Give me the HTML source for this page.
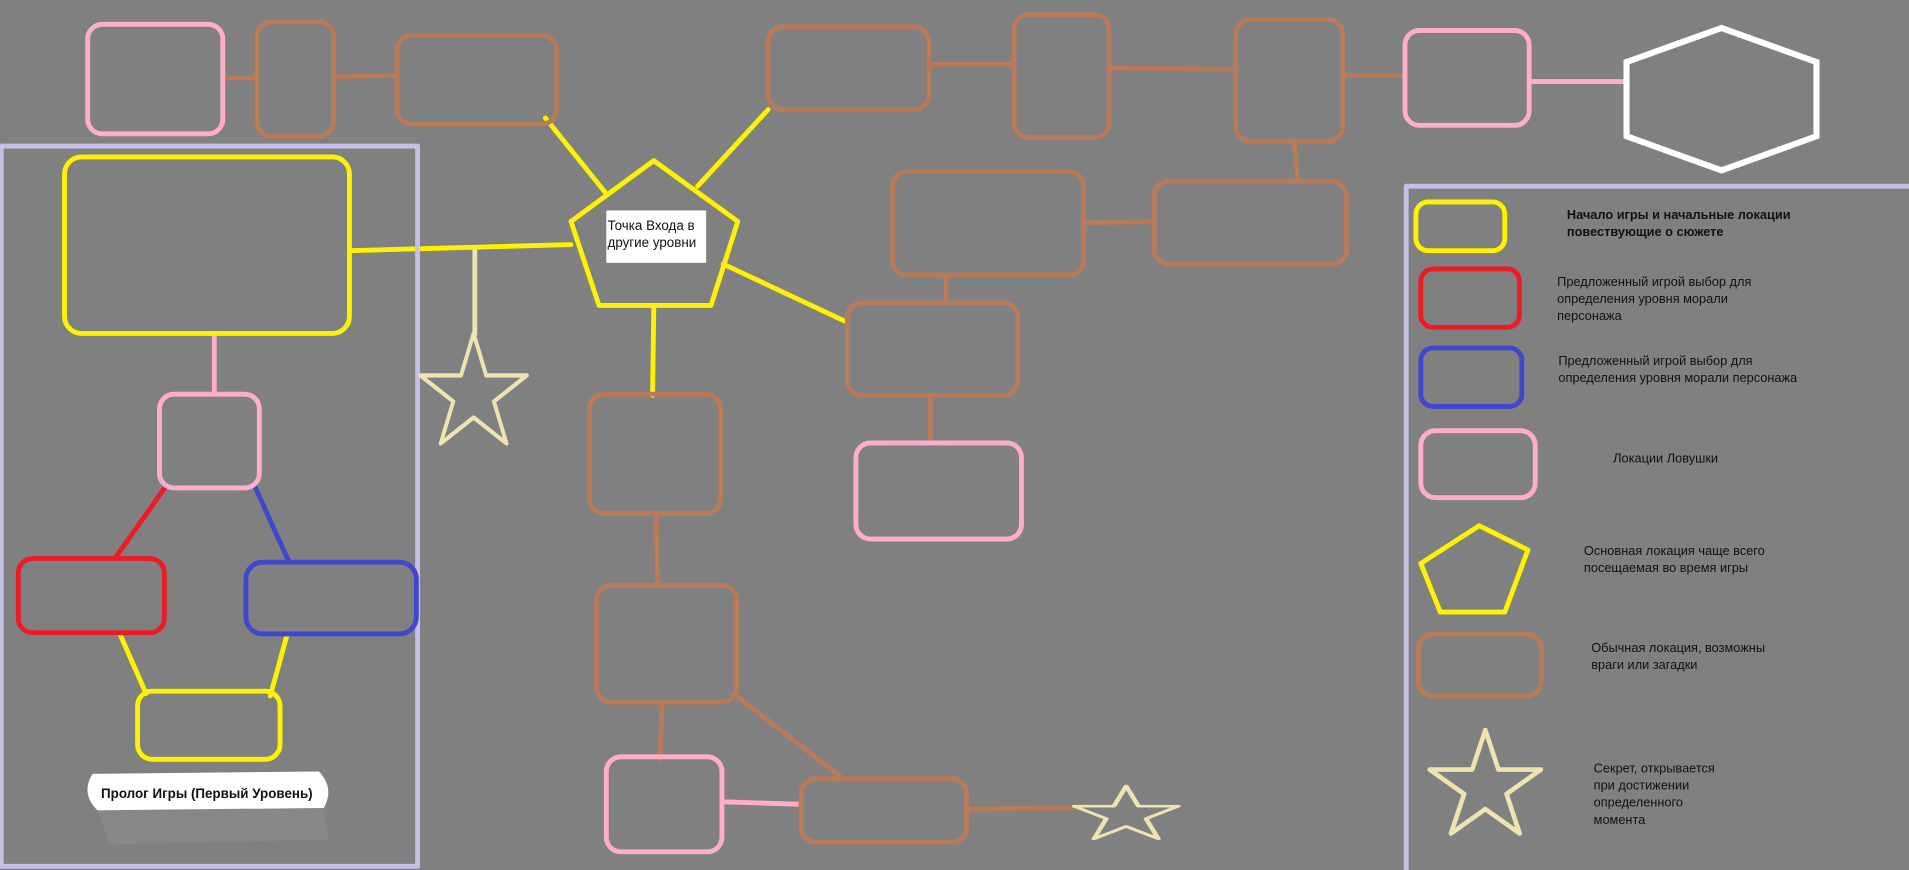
<!DOCTYPE html>
<html><head><meta charset="utf-8"><style>
html,body{margin:0;padding:0;background:#808080;overflow:hidden}
svg{display:block}
text{font-family:"Liberation Sans","DejaVu Sans",sans-serif;fill:#111;font-size:10.5px}
</style></head><body>
<svg width="1909" height="870" viewBox="0 0 1568 715" preserveAspectRatio="none" xmlns="http://www.w3.org/2000/svg">
<defs>
<polygon id="st" points="0,-1 0.2245,-0.309 0.951,-0.309 0.363,0.118 0.588,0.809 0,0.382 -0.588,0.809 -0.363,0.118 -0.951,-0.309 -0.2245,-0.309"/>
</defs>
<rect width="1568" height="715" fill="#808080"/>
<g fill="none" stroke-width="4" stroke-linecap="round" stroke-linejoin="round">
<g stroke="#b97a57">
<line x1="183" y1="64" x2="211" y2="64"/>
<line x1="274" y1="63" x2="326" y2="62"/>
<line x1="763" y1="53" x2="833" y2="53"/>
<line x1="911" y1="56" x2="1015" y2="57"/>
<line x1="1103" y1="62" x2="1154" y2="62"/>
<line x1="1063" y1="116" x2="1066" y2="149"/>
<line x1="890" y1="183" x2="948" y2="182"/>
<line x1="777" y1="226" x2="777" y2="249"/>
<line x1="764" y1="325" x2="764" y2="364"/>
<line x1="539" y1="422" x2="540" y2="481"/>
<line x1="544" y1="577" x2="542" y2="624"/>
<line x1="605" y1="572" x2="690" y2="638"/>
<line x1="794" y1="665" x2="882" y2="664"/>
</g>
<g stroke="#ffaec9">
<line x1="1256" y1="67" x2="1336" y2="67"/>
<line x1="593" y1="659" x2="658" y2="661"/>
<line x1="176" y1="274" x2="176" y2="324"/>
</g>
<g stroke="#fff200">
<line x1="448" y1="97" x2="497" y2="158"/>
<line x1="631" y1="90" x2="573" y2="153"/>
<line x1="287" y1="206" x2="469" y2="201"/>
<line x1="537" y1="253" x2="536" y2="325"/>
<line x1="594" y1="217" x2="694" y2="264"/>
<line x1="98" y1="520" x2="120" y2="570"/>
<line x1="236" y1="521" x2="222" y2="572"/>
</g>
<line x1="390" y1="206" x2="390" y2="275" stroke="#efe4b0"/>
<line x1="136" y1="400" x2="95" y2="458" stroke="#ed1c24"/>
<line x1="209" y1="399" x2="237" y2="461" stroke="#3f48cc"/>

<rect x="1" y="120" width="342" height="592" stroke="#c8bfe7"/>
<polyline points="1568,153 1155,153 1155,715" stroke="#c8bfe7"/>

<rect x="72" y="20" width="111" height="90" rx="12" stroke="#ffaec9"/>
<rect x="211" y="18" width="63" height="94" rx="12" stroke="#b97a57"/>
<rect x="326" y="29" width="131" height="73" rx="12" stroke="#b97a57"/>
<rect x="631" y="22" width="132" height="68" rx="12" stroke="#b97a57"/>
<rect x="833" y="12" width="78" height="101" rx="12" stroke="#b97a57"/>
<rect x="1015" y="16" width="88" height="100" rx="12" stroke="#b97a57"/>
<rect x="1154" y="25" width="102" height="78" rx="12" stroke="#ffaec9"/>
<polygon points="1414,23 1492,51 1492,112 1414,140 1336,112 1336,51" stroke="#ffffff" stroke-width="5" stroke-linejoin="miter"/>

<rect x="733" y="141" width="157" height="85" rx="12" stroke="#b97a57"/>
<rect x="948" y="149" width="158" height="68" rx="12" stroke="#b97a57"/>
<rect x="696" y="249" width="140" height="76" rx="12" stroke="#b97a57"/>
<rect x="703" y="364" width="136" height="79" rx="12" stroke="#ffaec9"/>
<rect x="484" y="324" width="108" height="98" rx="12" stroke="#b97a57"/>
<rect x="490" y="481" width="115" height="96" rx="12" stroke="#b97a57"/>
<rect x="498" y="622" width="95" height="78" rx="12" stroke="#ffaec9"/>
<rect x="658" y="640" width="136" height="52" rx="12" stroke="#b97a57"/>
<polygon points="537,132 606,182 584,251 492,251 469,182" stroke="#fff200"/>

<rect x="53" y="129" width="234" height="145" rx="14" stroke="#fff200"/>
<rect x="131" y="324" width="82" height="77" rx="12" stroke="#ffaec9"/>
<rect x="15" y="459" width="120" height="61" rx="12" stroke="#ed1c24"/>
<rect x="202" y="462" width="140" height="59" rx="14" stroke="#3f48cc"/>
<rect x="113" y="568" width="117" height="56" rx="12" stroke="#fff200"/>

<use href="#st" transform="translate(389,324) scale(46,50)" stroke="#efe4b0" stroke-width="0.07"/>
<use href="#st" transform="translate(925,670) scale(45,24)" stroke="#efe4b0" stroke-width="0.09"/>
<use href="#st" transform="translate(1220,647) scale(48,47)" stroke="#efe4b0" stroke-width="0.08"/>

<rect x="1163" y="166" width="73" height="40" rx="10" stroke="#fff200"/>
<rect x="1167" y="221" width="81" height="48" rx="10" stroke="#ed1c24"/>
<rect x="1167" y="286" width="83" height="48" rx="10" stroke="#3f48cc"/>
<rect x="1167" y="354" width="94" height="55" rx="12" stroke="#ffaec9"/>
<polygon points="1215,432 1255,452 1236,503 1183,503 1167,463" stroke="#fff200"/>
<rect x="1165" y="521" width="101" height="51" rx="12" stroke="#b97a57"/>
</g>

<rect x="498" y="173" width="82" height="43" fill="#fff"/>
<text x="499" y="189" style="font-size:11px">Точка Входа в</text>
<text x="499" y="203" style="font-size:11px">другие уровни</text>

<path d="M80,666 L266,664 L270,690 L90,694 Z" fill="#888" opacity="0.8"/>
<path d="M76,636 L262,634 Q275,648 266,664 L80,666 Q66,652 76,636 Z" fill="#fff"/>
<text x="83" y="656" style="font-size:11px;font-weight:bold">Пролог Игры (Первый Уровень)</text>

<g style="font-size:10px">
<text x="1287" y="180" style="font-weight:bold">Начало игры и начальные локации</text>
<text x="1287" y="194" style="font-weight:bold">повествующие о сюжете</text>
<text x="1279" y="235">Предложенный игрой выбор для</text>
<text x="1279" y="249">определения уровня морали</text>
<text x="1279" y="263">персонажа</text>
<text x="1280" y="300">Предложенный игрой выбор для</text>
<text x="1280" y="314">определения уровня морали персонажа</text>
<text x="1325" y="380">Локации Ловушки</text>
<text x="1301" y="456">Основная локация чаще всего</text>
<text x="1301" y="470">посещаемая во время игры</text>
<text x="1307" y="536">Обычная локация, возможны</text>
<text x="1307" y="550">враги или загадки</text>
<text x="1309" y="635">Секрет, открывается</text>
<text x="1309" y="649">при достижении</text>
<text x="1309" y="663">определенного</text>
<text x="1309" y="677">момента</text>
</g>
</svg>
</body></html>
